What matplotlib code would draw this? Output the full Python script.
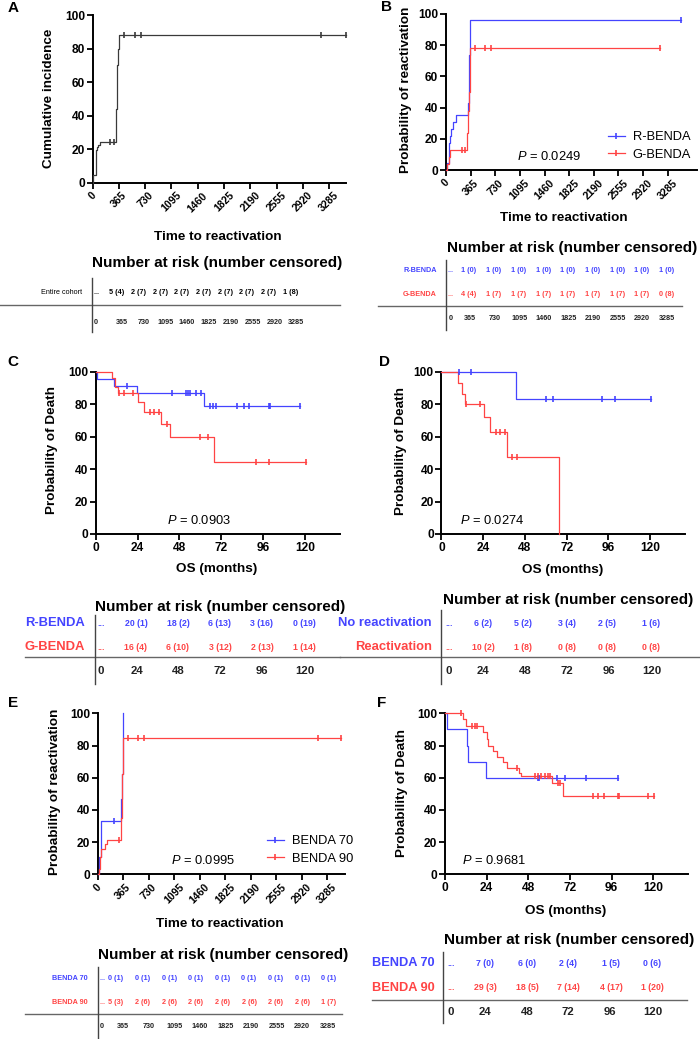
import numpy as np
import matplotlib
matplotlib.use('Agg')
import matplotlib.pyplot as plt
from matplotlib.lines import Line2D

plt.rcParams.update({'font.family': 'Liberation Sans',
                     'mathtext.fontset': 'custom',
                     'mathtext.it': 'Liberation Sans:italic',
                     'mathtext.rm': 'Liberation Sans'})

BLUE = '#4444ff'
RED = '#ff4444'
BLACK = '#3a3a3a'
W, H = 700, 1039

day_ticks = [0, 365, 730, 1095, 1460, 1825, 2190, 2555, 2920, 3285]
month_ticks = [0, 24, 48, 72, 96, 120]

# ---- A: entire cohort, cumulative incidence (days) ----
a_t = [0, 3, 45, 52, 65, 80, 100, 325, 330, 335, 345, 360]
a_v = [0, 4.6, 15, 19.5, 21, 22.5, 24, 30, 44, 70, 80, 88]
a_cens = [240, 300, 440, 590, 670, 3176, 3515]
a_end = 3515
a_risk = [5, 2, 2, 2, 2, 2, 2, 2, 1]
a_cnsd = [4, 7, 7, 7, 7, 7, 7, 7, 8]

# ---- B: R-BENDA vs G-BENDA, reactivation (days) ----
b_r_t = [0, 10, 45, 59, 74, 109, 143, 331, 341, 356]
b_r_v = [0, 4.3, 17, 22, 26, 30.5, 35, 43, 74, 96]
b_r_cens = [3487]
b_r_end = 3487
b_g_t = [0, 20, 45, 59, 317, 331, 341, 356]
b_g_v = [0, 4, 8.5, 13, 24, 38, 50, 78]
b_g_cens = [233, 282, 430, 579, 668, 3165]
b_g_end = 3165
b_r_risk = [1, 1, 1, 1, 1, 1, 1, 1, 1]
b_r_cnsd = [0, 0, 0, 0, 0, 0, 0, 0, 0]
b_g_risk = [4, 1, 1, 1, 1, 1, 1, 1, 0]
b_g_cnsd = [4, 7, 7, 7, 7, 7, 7, 7, 8]

# ---- C: R-BENDA vs G-BENDA, OS (months) ----
c_r_t = [0, 1, 10.7, 23.5, 61.8]
c_r_v = [100, 95.7, 91.4, 87, 79.2]
c_r_cens = [18.2, 44, 51.8, 52.8, 54.3, 57.6, 60.5, 65.6, 67, 69, 81, 85, 88, 99.5, 99.9, 117.3]
c_r_end = 117.3
c_g_t = [0, 9.2, 11, 13, 24.1, 27.4, 37.3, 42.3, 67.6]
c_g_v = [100, 96, 91, 87, 81.5, 75.5, 68, 60, 44.4]
c_g_cens = [13.4, 16.3, 21.6, 31.2, 33.5, 36, 40.8, 59.5, 64.3, 92, 99.5, 120.8]
c_g_end = 120.8
c_r_risk = [20, 18, 6, 3, 0]
c_r_cnsd = [1, 2, 13, 16, 19]
c_g_risk = [16, 6, 3, 2, 1]
c_g_cnsd = [4, 10, 12, 13, 14]

# ---- D: no reactivation vs reactivation, OS (months) ----
d_n_t = [0, 42.7]
d_n_v = [100, 83.3]
d_n_cens = [10, 16.7, 60, 64.3, 92, 99.5, 120.4]
d_n_end = 120.4
d_y_t = [0, 9.7, 12, 13.3, 24.6, 27.9, 37.5, 67.7]
d_y_v = [100, 93.2, 86.5, 80, 72.5, 63, 47.3, 0]
d_y_cens = [13.8, 22.4, 31.3, 33.7, 36.4, 40.8, 43.2]
d_y_end = 67.7
d_n_risk = [6, 5, 3, 2, 1]
d_n_cnsd = [2, 2, 4, 5, 6]
d_y_risk = [10, 1, 0, 0, 0]
d_y_cnsd = [2, 8, 8, 8, 8]

# ---- E: BENDA 70 vs BENDA 90, reactivation (days) ----
e_70_t = [0, 14, 48, 329, 345, 358]
e_70_v = [0, 11, 33.3, 47, 62, 100]
e_70_cens = [238]
e_70_end = 358
e_90_t = [0, 19, 33, 48, 105, 129, 329, 345, 352, 358]
e_90_v = [0, 3, 11, 16, 19, 21.6, 35, 56, 62, 84.6]
e_90_cens = [305, 429, 572, 668, 3158, 3478]
e_90_end = 3478
e_70_risk = [0, 0, 0, 0, 0, 0, 0, 0, 0]
e_70_cnsd = [1, 1, 1, 1, 1, 1, 1, 1, 1]
e_90_risk = [5, 2, 2, 2, 2, 2, 2, 2, 1]
e_90_cnsd = [3, 6, 6, 6, 6, 6, 6, 6, 7]

# ---- F: BENDA 70 vs BENDA 90, OS (months) ----
f_70_t = [0, 1, 12.5, 13.4, 23.6]
f_70_v = [100, 90, 80, 70, 60]
f_70_cens = [53.7, 54.3, 64.3, 69, 81.2, 99.4]
f_70_end = 99.4
f_90_t = [0, 10.6, 12, 21.7, 24, 25, 27.4, 29.7, 33.2, 35.5, 42.6, 43.5, 61.4, 67.8]
f_90_v = [100, 96.5, 92, 88.4, 84, 80, 76.6, 73, 69.7, 66.3, 62.8, 61, 56.6, 48.9]
f_90_cens = [9.5, 15.7, 17, 18.2, 41.7, 51.8, 53.7, 55.2, 57.5, 59.4, 60.4, 65.2, 66.5,
             85, 88, 91.7, 99.5, 100.3, 117, 120.3]
f_90_end = 120.3
f_70_risk = [7, 6, 2, 1, 0]
f_70_cnsd = [0, 0, 4, 5, 6]
f_90_risk = [29, 18, 7, 4, 1]
f_90_cnsd = [3, 5, 14, 17, 20]


fig = plt.figure(figsize=(7, 10.39), dpi=100)


def add_ax(rect):
    l, t, r, b = rect
    return fig.add_axes([l / W, 1 - b / H, (r - l) / W, (b - t) / H])


def to_frac(rect, px, py):
    l, t, r, b = rect
    return (px - l) / (r - l), (b - py) / (b - t)


def style(ax, rect, xmax, xticks, rotate, xlab, ylab, xlab_xy, ylab_xy):
    ax.set_xlim(0, xmax)
    ax.set_ylim(0, 100)
    for s in ['top', 'right']:
        ax.spines[s].set_visible(False)
    for s in ['left', 'bottom']:
        ax.spines[s].set_linewidth(1.4)
    ax.set_yticks(range(0, 101, 20))
    ax.set_xticks(xticks)
    ax.tick_params(direction='out', length=4, width=1.3, labelsize=8.6, pad=1.5)
    if rotate:
        ax.tick_params(axis='x', labelsize=7.6)
        for lab in ax.get_xticklabels():
            lab.set_rotation(45)
            lab.set_ha('center')
    for lab in ax.get_xticklabels() + ax.get_yticklabels():
        lab.set_fontweight('bold')
    ax.set_xlabel(xlab, fontsize=9.7, fontweight='bold', va='center')
    ax.set_ylabel(ylab, fontsize=9.7, fontweight='bold', va='center')
    ax.xaxis.set_label_coords(*to_frac(rect, *xlab_xy))
    ax.yaxis.set_label_coords(*to_frac(rect, *ylab_xy))
    ax.patch.set_alpha(0)


def km(ax, t, v, end, cens, color):
    tt = list(t) + [end]
    vv = list(v) + [v[-1]]
    ax.step(tt, vv, where='post', color=color, lw=0.9, clip_on=False, zorder=3)
    idx = np.searchsorted(t, cens, side='right') - 1
    ax.plot(cens, np.array(v)[idx], ls='none', marker='|', ms=4, mew=1.2,
            color=color, clip_on=False, zorder=4)


def legend(ax, labels, anchor):
    hs = [Line2D([], [], color=c, lw=0.9, marker='|', ms=4, mew=1.2) for c in (BLUE, RED)]
    ax.legend(hs, labels, loc='center left', bbox_to_anchor=anchor, frameon=False,
              fontsize=9.3, handlelength=1.3, handletextpad=0.6, labelspacing=0.45,
              borderpad=0, borderaxespad=0)


# ---- panel geometry (pixels: left, top, right, bottom) ----
rA = (92.7, 15, 346, 182.7)
rB = (446, 14, 697, 170)
rC = (95.7, 372, 340, 534)
rD = (441.5, 372, 685, 534)
rE = (97.7, 713.3, 345, 874.3)
rF = (445, 713.3, 688, 874.3)

axA = add_ax(rA)
km(axA, a_t, a_v, a_end, a_cens, BLACK)
style(axA, rA, 3520, day_ticks, True, 'Time to reactivation', 'Cumulative incidence',
      (218, 237), (49, 98))

axB = add_ax(rB)
km(axB, b_r_t, b_r_v, b_r_end, b_r_cens, BLUE)
km(axB, b_g_t, b_g_v, b_g_end, b_g_cens, RED)
style(axB, rB, 3720, day_ticks, True, 'Time to reactivation', 'Probability of reactivation',
      (564, 218), (406, 90))
legend(axB, ['R-BENDA', 'G-BENDA'], to_frac(rB, 608, 146))

axC = add_ax(rC)
km(axC, c_r_t, c_r_v, c_r_end, c_r_cens, BLUE)
km(axC, c_g_t, c_g_v, c_g_end, c_g_cens, RED)
style(axC, rC, 140, month_ticks, False, 'OS (months)', 'Probability of Death',
      (217, 569), (52.5, 450))

axD = add_ax(rD)
km(axD, d_n_t, d_n_v, d_n_end, d_n_cens, BLUE)
km(axD, d_y_t, d_y_v, d_y_end, d_y_cens, RED)
style(axD, rD, 140, month_ticks, False, 'OS (months)', 'Probability of Death',
      (563, 570), (401, 451))

axE = add_ax(rE)
km(axE, e_70_t, e_70_v, e_70_end, e_70_cens, BLUE)
km(axE, e_90_t, e_90_v, e_90_end, e_90_cens, RED)
style(axE, rE, 3540, day_ticks, True, 'Time to reactivation', 'Probability of reactivation',
      (220, 924), (55, 792))
legend(axE, ['BENDA 70', 'BENDA 90'], to_frac(rE, 267, 850))

axF = add_ax(rF)
km(axF, f_70_t, f_70_v, f_70_end, f_70_cens, BLUE)
km(axF, f_90_t, f_90_v, f_90_end, f_90_cens, RED)
style(axF, rF, 140, month_ticks, False, 'OS (months)', 'Probability of Death',
      (566, 911), (402, 793))

# ---- overlay in pixel coordinates for letters, P values and risk tables ----
ov = fig.add_axes([0, 0, 1, 1])
ov.set_xlim(0, W)
ov.set_ylim(H, 0)
ov.axis('off')
ov.patch.set_alpha(0)

for letter, x, y in [('A', 13, 7.5), ('B', 386, 7), ('C', 13, 362),
                     ('D', 385, 362), ('E', 13, 703), ('F', 382, 703)]:
    ov.text(x, y, letter, fontsize=11, fontweight='bold', ha='center', va='center')

for p, x, y in [('0.0249', 517, 156), ('0.0903', 167, 520), ('0.0274', 460, 520),
                ('0.0995', 171, 860), ('0.9681', 462, 861)]:
    ov.text(x, y, '$P$ = ' + p, fontsize=9.3, ha='left', va='center')


def table(title_xy, names, colors, name_x, name_fs, name_w, row_ys, risks, cnsds,
          dots_x, val_x, val_fs, times, t_x, t_y, t_fs, hline, vline):
    ov.text(title_xy[0], title_xy[1], 'Number at risk (number censored)', fontsize=11,
            fontweight='bold', ha='left', va='center')
    for name, col, y, rk, cs in zip(names, colors, row_ys, risks, cnsds):
        ov.text(name_x, y, name, color=col, fontsize=name_fs, fontweight=name_w,
                ha='right', va='center')
        ov.text(dots_x, y, '...', color=col, fontsize=val_fs, fontweight='bold',
                ha='left', va='center')
        for x, r, c in zip(val_x, rk, cs):
            ov.text(x, y, f'{r} ({c})', color=col, fontsize=val_fs, fontweight='bold',
                    ha='center', va='center')
    for i, (x, lab) in enumerate(zip(t_x, times)):
        ov.text(x, t_y, str(lab), fontsize=t_fs, fontweight='bold', color='#222222',
                ha='left' if i == 0 else 'center', va='center')
    ov.plot(hline[0], hline[1], color='#666666', lw=1.0)
    ov.plot(vline[0], vline[1], color='#444444', lw=1.0)


table((92, 263), ['Entire cohort'], ['black'], 82, 5.2, 'normal', [292],
      [a_risk], [a_cnsd], 94, [116.7 + 21.7 * i for i in range(9)], 5.2,
      day_ticks, [94] + [121.7 + 21.8 * i for i in range(9)], 323, 5.2,
      ([0, 340], [305, 305]), ([91.7, 91.7], [278, 332]))

table((447, 248), ['R-BENDA', 'G-BENDA'], [BLUE, RED], 437, 5.2, 'bold', [271, 294],
      [b_r_risk, b_g_risk], [b_r_cnsd, b_g_cnsd], 448,
      [469 + 24.7 * i for i in range(9)], 5.2,
      day_ticks, [449] + [470 + 24.6 * i for i in range(9)], 318, 5.2,
      ([378, 682], [306, 306]), ([446, 446], [260, 330]))

table((95, 607), ['R-BENDA', 'G-BENDA'], [BLUE, RED], 85, 9.4, 'bold', [623, 647],
      [c_r_risk, c_g_risk], [c_r_cnsd, c_g_cnsd], 97,
      [136, 178, 220, 262, 304], 6.3,
      month_ticks, [98, 137, 178, 220, 262, 305], 671, 8.2,
      ([25, 340], [657, 657]), ([95, 95], [615, 684]))

table((443, 600), ['No reactivation', 'Reactivation'], [BLUE, RED], 432, 9.4, 'bold',
      [623, 647], [d_n_risk, d_y_risk], [d_n_cnsd, d_y_cnsd], 445,
      [483, 523, 567, 607, 651], 6.3,
      month_ticks, [446, 483, 525, 567, 609, 652], 671, 8.2,
      ([340, 700], [657, 657]), ([441, 441], [610, 684]))

table((98, 955), ['BENDA 70', 'BENDA 90'], [BLUE, RED], 88, 5.2, 'bold', [978, 1002],
      [e_70_risk, e_90_risk], [e_70_cnsd, e_90_cnsd], 100,
      [116 + 26.6 * i for i in range(9)], 5.2,
      day_ticks, [100] + [123 + 25.6 * i for i in range(9)], 1026, 5.2,
      ([25, 342], [1014, 1014]), ([98, 98], [967, 1039]))

table((444, 940), ['BENDA 70', 'BENDA 90'], [BLUE, RED], 435, 9.2, 'bold', [963, 988],
      [f_70_risk, f_90_risk], [f_70_cnsd, f_90_cnsd], 447,
      [485, 527, 568, 611, 652], 6.3,
      month_ticks, [447, 485, 527, 568, 610, 653], 1012, 8.2,
      ([372, 687], [1000, 1000]), ([443, 443], [952, 1023]))

fig.savefig('out.png', dpi=100)
